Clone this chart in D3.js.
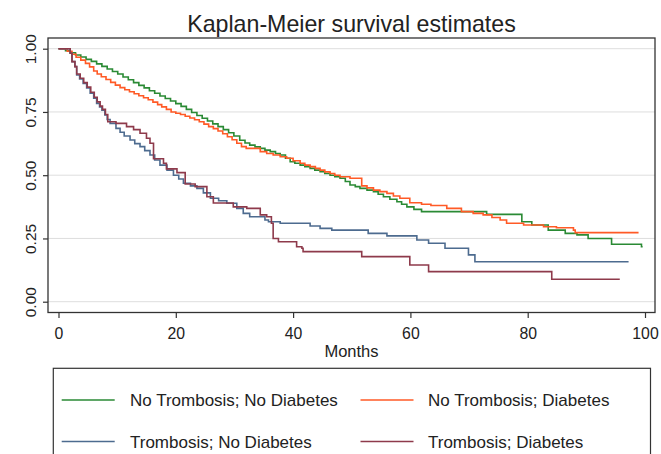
<!DOCTYPE html>
<html>
<head>
<meta charset="utf-8">
<script src="https://cdn.jsdelivr.net/npm/d3@7"></script>
<style>
  html, body { margin: 0; padding: 0; background: #fff; }
  svg { display: block; font-family: "Liberation Sans", Arial, sans-serif; }
</style>
</head>
<body>
<svg id="chart" width="661" height="454"></svg>
<script>
// ---- Data ----
const title = "Kaplan-Meier survival estimates";
const xLabel = "Months";
const xTicks = [0, 20, 40, 60, 80, 100];
const yTicks = [0, 0.25, 0.5, 0.75, 1];
const yTickLabels = ["0.00", "0.25", "0.50", "0.75", "1.00"];
const seriesNames = ["No Trombosis; No Diabetes", "No Trombosis; Diabetes", "Trombosis; No Diabetes", "Trombosis; Diabetes"];
const seriesColors = ["#2a8a34", "#ff5a26", "#4d6b8f", "#8e3a4b"];

const greenTimes = [0, 1.2, 2.0, 2.9, 3.8, 4.7, 5.6, 6.5, 7.4, 8.3, 9.2, 10.1, 11.0, 11.9, 12.8, 13.7, 14.6, 15.5, 16.4, 17.3, 18.2, 19.1, 20.0, 20.9, 21.8, 22.7, 23.6, 24.5, 25.4, 26.3, 27.2, 28.1, 29.0, 29.9, 30.9, 31.8, 32.6, 33.5, 34.4, 35.2, 36.1, 37.0, 37.8, 38.7, 39.5, 40.3, 41.2, 42.0, 42.9, 43.7, 44.6, 45.4, 46.3, 47.1, 48.0, 48.9, 49.7, 50.6, 51.4, 52.6, 53.7, 54.5, 55.4, 56.5, 57.7, 58.5, 59.4, 60.6, 61.9, 73.0, 79.0, 80.7, 83.5, 86.4, 88.4, 90.3, 94.3, 99.4, 99.6];
const greenSurv = [1.0, 0.992, 0.984, 0.975, 0.967, 0.958, 0.95, 0.94, 0.93, 0.92, 0.91, 0.90, 0.888, 0.877, 0.866, 0.855, 0.845, 0.834, 0.824, 0.813, 0.803, 0.793, 0.783, 0.772, 0.76, 0.748, 0.736, 0.725, 0.714, 0.703, 0.692, 0.68, 0.668, 0.655, 0.638, 0.627, 0.619, 0.612, 0.606, 0.599, 0.593, 0.586, 0.58, 0.567, 0.553, 0.547, 0.54, 0.534, 0.527, 0.52, 0.514, 0.507, 0.50, 0.494, 0.488, 0.475, 0.461, 0.455, 0.448, 0.441, 0.435, 0.425, 0.415, 0.405, 0.395, 0.385, 0.375, 0.365, 0.356, 0.345, 0.316, 0.303, 0.283, 0.27, 0.264, 0.25, 0.227, 0.217, 0.217];

const orangeTimes = [0, 1.5, 2.3, 3.0, 3.8, 4.6, 5.3, 6.0, 6.6, 7.3, 8.1, 8.9, 9.7, 10.5, 11.3, 12.1, 12.9, 13.7, 14.5, 15.3, 16.1, 16.9, 17.6, 18.4, 19.2, 20.0, 20.8, 21.6, 22.4, 23.2, 24.0, 24.8, 25.6, 26.4, 27.2, 28.0, 28.8, 29.6, 30.4, 31.2, 32.0, 34.4, 35.5, 36.6, 37.8, 38.9, 40.0, 41.2, 42.0, 42.9, 43.8, 44.6, 45.4, 46.3, 47.1, 48.0, 49.7, 51.7, 52.6, 53.7, 54.8, 56.0, 57.1, 58.2, 59.9, 61.9, 63.5, 66.2, 68.7, 70.7, 72.4, 73.9, 75.3, 76.4, 79.3, 82.7, 84.9, 87.8, 88.1, 98.9];
const orangeSurv = [1.0, 0.99, 0.978, 0.966, 0.955, 0.942, 0.928, 0.912, 0.9, 0.889, 0.878, 0.867, 0.856, 0.846, 0.838, 0.83, 0.822, 0.814, 0.806, 0.798, 0.789, 0.779, 0.77, 0.76, 0.75, 0.745, 0.74, 0.733, 0.726, 0.719, 0.711, 0.702, 0.692, 0.684, 0.675, 0.664, 0.652, 0.64, 0.626, 0.613, 0.606, 0.593, 0.586, 0.58, 0.573, 0.567, 0.557, 0.547, 0.54, 0.534, 0.527, 0.52, 0.513, 0.507, 0.5, 0.494, 0.488, 0.458, 0.45, 0.441, 0.435, 0.428, 0.418, 0.409, 0.391, 0.385, 0.38, 0.369, 0.356, 0.349, 0.343, 0.333, 0.323, 0.31, 0.303, 0.296, 0.292, 0.283, 0.273, 0.273];

const blueTimes = [0, 2.0, 2.3, 2.8, 3.1, 3.6, 4.2, 4.8, 5.4, 6.0, 6.5, 7.0, 7.4, 7.9, 8.3, 8.8, 9.8, 10.5, 11.2, 12.2, 13.0, 13.9, 14.7, 15.6, 16.4, 17.3, 18.5, 19.6, 20.5, 21.3, 22.5, 23.6, 24.7, 25.9, 27.3, 28.7, 30.4, 31.5, 32.6, 35.2, 35.8, 37.8, 42.9, 44.6, 46.6, 52.8, 56.0, 61.1, 63.1, 65.9, 69.9, 71.0, 97.2];
const blueSurv = [1.0, 0.982, 0.949, 0.929, 0.896, 0.88, 0.863, 0.845, 0.824, 0.804, 0.784, 0.77, 0.757, 0.738, 0.72, 0.705, 0.685, 0.67, 0.655, 0.639, 0.625, 0.613, 0.597, 0.58, 0.56, 0.54, 0.52, 0.50, 0.485, 0.468, 0.458, 0.448, 0.43, 0.409, 0.399, 0.389, 0.369, 0.349, 0.336, 0.323, 0.316, 0.31, 0.299, 0.29, 0.283, 0.27, 0.26, 0.244, 0.231, 0.211, 0.185, 0.158, 0.158];

const maroonTimes = [0, 2.0, 2.3, 2.8, 3.1, 3.7, 4.3, 4.9, 5.5, 6.1, 6.6, 7.1, 7.5, 8.0, 8.4, 9.8, 11.6, 12.8, 13.9, 15.0, 15.6, 16.2, 17.9, 18.4, 20.2, 21.6, 23.3, 25.3, 26.4, 29.8, 32.1, 34.4, 35.5, 36.3, 36.6, 37.5, 40.6, 41.5, 41.7, 51.7, 59.9, 63.1, 84.1, 95.7];
const maroonSurv = [1.0, 0.982, 0.949, 0.929, 0.9, 0.883, 0.866, 0.848, 0.828, 0.808, 0.79, 0.773, 0.76, 0.74, 0.711, 0.705, 0.692, 0.68, 0.666, 0.646, 0.626, 0.565, 0.547, 0.525, 0.51, 0.465, 0.455, 0.415, 0.39, 0.375, 0.369, 0.343, 0.336, 0.31, 0.25, 0.237, 0.217, 0.211, 0.198, 0.178, 0.145, 0.119, 0.0885, 0.0885];

const seriesTimes = [greenTimes, orangeTimes, blueTimes, maroonTimes];
const seriesSurv = [greenSurv, orangeSurv, blueSurv, maroonSurv];

// ---- Layout ----
const svg = d3.select("#chart");
const frame = { left: 48, top: 38, right: 655, bottom: 312.5 };
const x = d3.scaleLinear().domain([0, 100]).range([58.5, 645]);
const y = d3.scaleLinear().domain([0, 1]).range([301.7, 48.7]);
const textColor = "#222";

svg.append("rect").attr("width", 661).attr("height", 454).attr("fill", "#fff");

// gridlines
svg.append("g").selectAll("line").data(yTicks).join("line")
  .attr("x1", frame.left).attr("x2", frame.right)
  .attr("y1", d => y(d)).attr("y2", d => y(d))
  .attr("stroke", "#dedede").attr("stroke-width", 1);

// curves
const line = d3.line().x(d => x(d[0])).y(d => y(d[1])).curve(d3.curveStepAfter);
seriesTimes.forEach((ts, i) => {
  const pts = ts.map((t, j) => [t, seriesSurv[i][j]]);
  svg.append("path").datum(pts)
    .attr("d", line)
    .attr("fill", "none")
    .attr("stroke", seriesColors[i])
    .attr("stroke-width", 1.6)
    .attr("stroke-linejoin", "miter");
});

// frame
svg.append("rect")
  .attr("x", frame.left).attr("y", frame.top)
  .attr("width", frame.right - frame.left).attr("height", frame.bottom - frame.top)
  .attr("fill", "none").attr("stroke", "#333").attr("stroke-width", 1.3);

// y axis
const yAxis = d3.axisLeft(y).tickValues(yTicks).tickSize(5).tickFormat((d, i) => yTickLabels[i]);
const gy = svg.append("g").attr("transform", `translate(${frame.left},0)`).call(yAxis);
gy.select(".domain").remove();
gy.selectAll(".tick line").attr("stroke", "#333").attr("stroke-width", 1.2);
gy.selectAll(".tick text")
  .attr("x", null).attr("dy", null)
  .attr("transform", "translate(-12.5,0) rotate(-90)")
  .attr("text-anchor", "middle")
  .attr("font-size", "15.5px")
  .attr("font-family", "Liberation Sans, Arial, sans-serif")
  .attr("fill", textColor);

// x axis
const xAxis = d3.axisBottom(x).tickValues(xTicks).tickSize(5.5).tickFormat(d3.format("d"));
const gx = svg.append("g").attr("transform", `translate(0,${frame.bottom})`).call(xAxis);
gx.select(".domain").remove();
gx.selectAll(".tick line").attr("stroke", "#333").attr("stroke-width", 1.2);
gx.selectAll(".tick text")
  .attr("y", 26.8).attr("dy", null)
  .attr("font-size", "15.8px")
  .attr("font-family", "Liberation Sans, Arial, sans-serif")
  .attr("fill", textColor);

// axis title
svg.append("text").attr("x", 351.5).attr("y", 357.3)
  .attr("text-anchor", "middle").attr("font-size", "16.5px").attr("fill", textColor)
  .text(xLabel);

// title
svg.append("text").attr("x", 351.5).attr("y", 31.5)
  .attr("text-anchor", "middle").attr("font-size", "23.2px").attr("fill", textColor)
  .text(title);

// legend
const legend = svg.append("g");
legend.append("rect").attr("x", 53.3).attr("y", 368.3).attr("width", 597.2).attr("height", 120)
  .attr("fill", "#fff").attr("stroke", "#333").attr("stroke-width", 1.2);
const legX = [61.7, 360.5];
const legTextX = [130, 428];
const legY = [400, 441.5];
seriesNames.forEach((name, i) => {
  const col = i % 2, row = Math.floor(i / 2);
  legend.append("line")
    .attr("x1", legX[col]).attr("x2", legX[col] + 53)
    .attr("y1", legY[row]).attr("y2", legY[row])
    .attr("stroke", seriesColors[i]).attr("stroke-width", 1.6);
  legend.append("text")
    .attr("x", legTextX[col]).attr("y", legY[row] + 6.3)
    .attr("font-size", "17px").attr("fill", textColor)
    .text(name);
});
</script>
</body>
</html>
